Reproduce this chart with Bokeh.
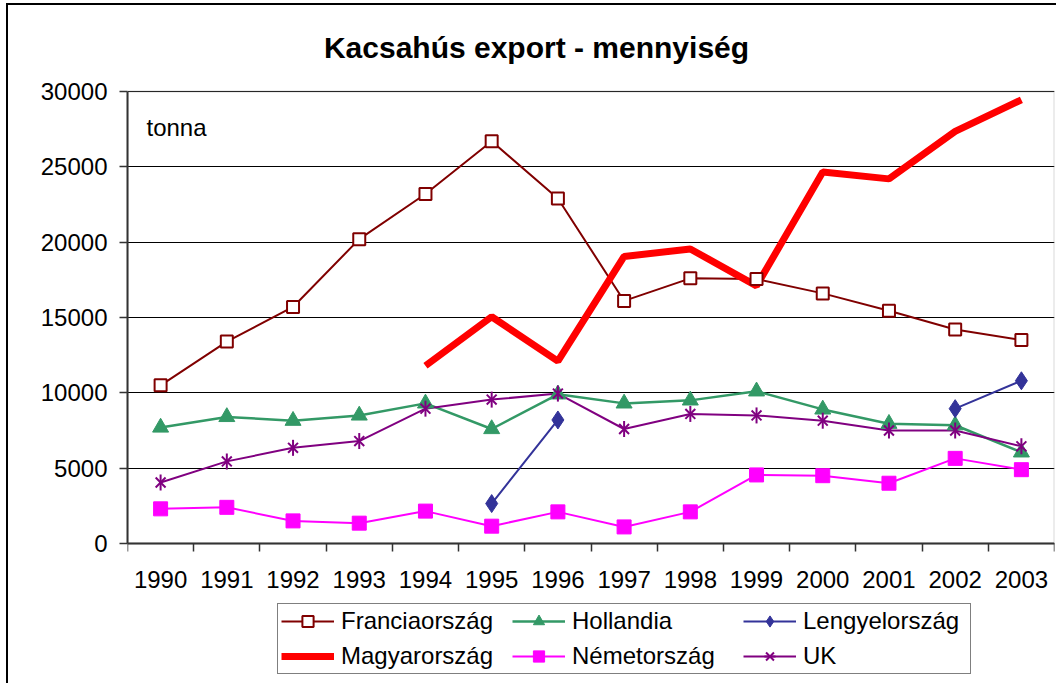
import numpy as np
from bokeh.plotting import figure
from bokeh.models import (Range1d, FixedTicker, Legend, LegendItem, Label, LabelSet,
                          BoxAnnotation, ColumnDataSource)
from bokeh.core.properties import value
from bokeh.embed import file_html
from bokeh.resources import INLINE

nan = float("nan")

years = ["1990", "1991", "1992", "1993", "1994", "1995", "1996",
         "1997", "1998", "1999", "2000", "2001", "2002", "2003"]
y_ticks = [0, 5000, 10000, 15000, 20000, 25000, 30000]

franciaorszag = [10500, 13400, 15700, 20200, 23200, 26700, 22900,
                 16100, 17600, 17550, 16600, 15450, 14200, 13500]
hollandia = [7700, 8400, 8150, 8500, 9300, 7600, 9900,
             9300, 9500, 10100, 8900, 7950, 7850, 6050]
lengyelorszag = [nan, nan, nan, nan, nan, 2650, 8200,
                 nan, nan, nan, nan, nan, 8950, 10800]
magyarorszag = [nan, nan, nan, nan, 11800, 15050, 12100,
                19050, 19550, 17100, 24650, 24200, 27350, 29450]
nemetorszag = [2300, 2400, 1500, 1350, 2150, 1150, 2100,
               1100, 2100, 4550, 4500, 4000, 5650, 4900]
uk = [4050, 5450, 6350, 6800, 8950, 9550, 9950,
      7600, 8600, 8500, 8150, 7500, 7500, 6450]

FONT = "Liberation Sans"

# layout (pixels, canvas coordinates)
W, H = 1050, 680
BORDER_L, BORDER_R, BORDER_T, BORDER_B = 119, 4, 20, 2
PLOT_TOP, PLOT_BOTTOM = 86, 538          # plot-area edges inside the canvas
frame_top = BORDER_T
frame_bottom = H - BORDER_B
frame_h = frame_bottom - frame_top
ppx = (y_ticks[-1] - y_ticks[0]) / (PLOT_BOTTOM - PLOT_TOP)
y_end = y_ticks[-1] + (PLOT_TOP - frame_top) * ppx
y_start = y_ticks[0] - (frame_bottom - PLOT_BOTTOM) * ppx

xs = [i + 0.5 for i in range(len(years))]

p = figure(width=W, height=H, output_backend="svg", toolbar_location=None,
           x_range=Range1d(0, len(years)), y_range=Range1d(y_start, y_end),
           x_axis_location="above",
           min_border_left=BORDER_L, min_border_right=BORDER_R,
           min_border_top=BORDER_T, min_border_bottom=BORDER_B)
p.styles = {"border-left": "2px solid black", "border-top": "2px solid black",
            "margin-left": "6px", "margin-top": "3px"}
p.background_fill_color = "white"
p.border_fill_color = "white"
p.outline_line_color = None

# x axis drawn at y = 0, ticks between categories
xa = p.xaxis[0]
xa.fixed_location = 0
xa.ticker = FixedTicker(ticks=[], minor_ticks=list(range(len(years) + 1)))
xa.major_tick_line_color = None
xa.major_tick_out = 0
xa.major_tick_in = 0
xa.minor_tick_line_color = "#333333"
xa.minor_tick_line_width = 1.5
xa.minor_tick_out = 0
xa.minor_tick_in = 8
xa.axis_line_color = "#333333"
xa.axis_line_width = 2
xa.major_label_standoff = 0

ya = p.yaxis[0]
ya.bounds = (y_ticks[0], y_ticks[-1])
ya.ticker = FixedTicker(ticks=y_ticks, minor_ticks=[])
ya.major_tick_line_color = "#333333"
ya.major_tick_line_width = 1.5
ya.major_tick_out = 8
ya.major_tick_in = 0
ya.axis_line_color = "#333333"
ya.axis_line_width = 2
ya.major_label_text_font = FONT
ya.major_label_text_font_size = "24px"
ya.major_label_text_color = "black"
ya.major_label_standoff = 12

p.xgrid.grid_line_color = None
p.ygrid.grid_line_color = "black"
p.ygrid.grid_line_width = 1

plot_area = BoxAnnotation(left=0, right=len(years), bottom=y_ticks[0], top=y_ticks[-1],
                          fill_color=None, line_color="#808080", line_width=2,
                          level="underlay")
p.add_layout(plot_area)

year_src = ColumnDataSource(dict(x=xs, y=[y_ticks[0]] * len(years), text=years))
p.add_layout(LabelSet(x="x", y="y", text="text", source=year_src, y_offset=-36,
                      text_align="center", text_baseline="middle",
                      text_font=value(FONT), text_font_size=value("24px"),
                      text_color="black"))

# lines first
l_fr = p.line(xs, franciaorszag, line_color="#800000", line_width=2)
l_ho = p.line(xs, hollandia, line_color="#339966", line_width=2.5)
l_le = p.line(xs, lengyelorszag, line_color="#333399", line_width=2)
l_ma = p.line(xs, magyarorszag, line_color="#FF0000", line_width=7)
l_ne = p.line(xs, nemetorszag, line_color="#FF00FF", line_width=2)
l_uk = p.line(xs, uk, line_color="#800080", line_width=2)

# markers
m_fr = p.scatter(xs, franciaorszag, marker="square", size=12, fill_color="white",
                 line_color="#800000", line_width=2)
m_ho = p.scatter(xs, hollandia, marker="triangle", size=16, fill_color="#339966",
                 line_color="#339966", line_width=1)
m_le = p.scatter(xs, lengyelorszag, marker="diamond", size=18,
                 fill_color="#333399", line_color="#333399", line_width=1)
m_ne = p.scatter(xs, nemetorszag, marker="square", size=14, fill_color="#FF00FF",
                 line_color="#FF00FF", line_width=1)
m_uk1 = p.scatter(xs, uk, marker="x", size=14, line_color="#800080", line_width=2)
m_uk2 = p.scatter(xs, uk, marker="dash", size=16, angle=np.pi / 2,
                  line_color="#800080", line_width=2)

legend = Legend(
    items=[
        LegendItem(label="Franciaország", renderers=[l_fr, m_fr]),
        LegendItem(label="Hollandia", renderers=[l_ho, m_ho]),
        LegendItem(label="Lengyelország", renderers=[l_le, m_le]),
        LegendItem(label="Magyarország", renderers=[l_ma]),
        LegendItem(label="Németország", renderers=[l_ne, m_ne]),
        LegendItem(label="UK", renderers=[l_uk, m_uk1, m_uk2]),
    ],
    orientation="horizontal", ncols=3,
    location=(150, 9),
    border_line_color="black", border_line_width=1,
    background_fill_color="white", background_fill_alpha=1,
    label_text_font=FONT, label_text_font_size="24px", label_text_color="black",
    glyph_width=53, glyph_height=28, label_standoff=7, label_width=164,
    spacing=7, padding=3, margin=0,
)
p.add_layout(legend)

title = Label(x=409, y=frame_h - (41.6 - frame_top), x_units="screen", y_units="screen",
              text="Kacsahús export - mennyiség", text_align="center",
              text_baseline="middle", text_font=FONT, text_font_style="bold",
              text_font_size="30px", text_color="black")
p.add_layout(title)

unit = Label(x=19, y=frame_h - (122 - frame_top), x_units="screen", y_units="screen",
             text="tonna", text_align="left", text_baseline="middle", text_font=FONT,
             text_font_size="24px", text_color="black")
p.add_layout(unit)

open("out.html", "w").write(file_html(p, INLINE))
